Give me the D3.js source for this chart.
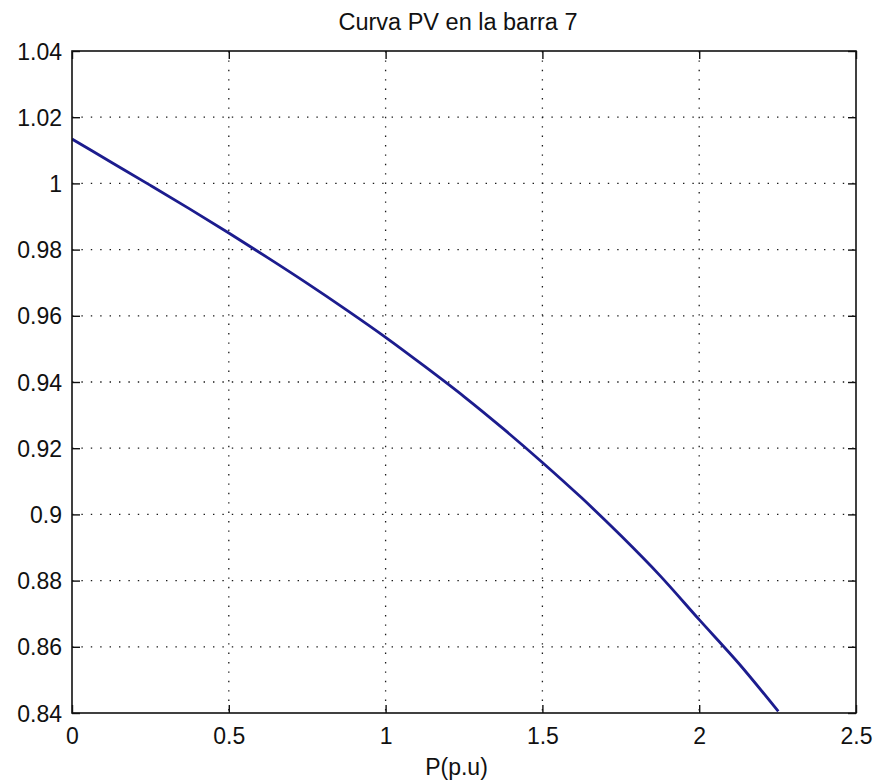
<!DOCTYPE html>
<html>
<head>
<meta charset="utf-8">
<script src="https://cdn.jsdelivr.net/npm/d3@7"></script>
<style>
  html, body { margin: 0; padding: 0; background: #ffffff; }
  svg { display: block; }
  text { font-family: "Liberation Sans", Arial, Helvetica, sans-serif; fill: #111; }
</style>
</head>
<body>
<svg id="chart" width="877" height="784"></svg>
<script>
// ---- data ----
const titleText = "Curva PV en la barra 7";
const xLabelText = "P(p.u)";
const powerP = [0, 0.125, 0.25, 0.375, 0.5, 0.625, 0.75, 0.875, 1.0, 1.125, 1.25, 1.375, 1.5, 1.625, 1.75, 1.875, 2.0, 2.125, 2.252];
const voltageV = [1.0134, 1.0064, 0.9994, 0.9923, 0.9850, 0.9775, 0.9698, 0.9618, 0.9535, 0.9447, 0.9356, 0.9259, 0.9157, 0.9050, 0.8936, 0.8815, 0.8682, 0.8551, 0.8405];
const xTicks = [0, 0.5, 1, 1.5, 2, 2.5];
const yTicks = [0.84, 0.86, 0.88, 0.9, 0.92, 0.94, 0.96, 0.98, 1, 1.02, 1.04];
const xDomain = [0, 2.5];
const yDomain = [0.84, 1.04];

// ---- layout ----
const W = 877, H = 784;
const margin = { left: 72, top: 51, right: 21, bottom: 71 };
const iw = W - margin.left - margin.right;
const ih = H - margin.top - margin.bottom;

const svg = d3.select("#chart");
const g = svg.append("g").attr("transform", `translate(${margin.left},${margin.top})`);

const x = d3.scaleLinear().domain(xDomain).range([0, iw]);
const y = d3.scaleLinear().domain(yDomain).range([ih, 0]);

// grid lines (dotted)
const gridColor = "#1a1a1a";
g.append("g").selectAll("line")
  .data(xTicks.filter(t => t > xDomain[0] && t < xDomain[1]))
  .join("line")
  .attr("x1", d => x(d)).attr("x2", d => x(d))
  .attr("y1", 0).attr("y2", ih)
  .attr("stroke", gridColor).attr("stroke-width", 1.3)
  .attr("stroke-dasharray", "1.4,8");
g.append("g").selectAll("line")
  .data(yTicks.filter(t => t > yDomain[0] && t < yDomain[1]))
  .join("line")
  .attr("x1", 0).attr("x2", iw)
  .attr("y1", d => y(d)).attr("y2", d => y(d))
  .attr("stroke", gridColor).attr("stroke-width", 1.3)
  .attr("stroke-dasharray", "1.4,8");

// data line
const line = d3.line().x((d, i) => x(powerP[i])).y(d => y(d)).curve(d3.curveMonotoneX);
g.append("defs").append("clipPath").attr("id", "clip")
  .append("rect").attr("x", 0).attr("y", 0).attr("width", iw).attr("height", ih);
g.append("path")
  .datum(voltageV)
  .attr("d", line)
  .attr("fill", "none")
  .attr("stroke", "#1c1c8e")
  .attr("stroke-width", 2.8)
  .attr("stroke-linejoin", "round")
  .attr("clip-path", "url(#clip)");

// axes with inward ticks
const tickLen = 8;
const axisBottom = d3.axisBottom(x).tickValues(xTicks).tickSizeInner(-tickLen).tickSizeOuter(0).tickPadding(0).tickFormat(d3.format("~g"));
const axisLeft = d3.axisLeft(y).tickValues(yTicks).tickSizeInner(-tickLen).tickSizeOuter(0).tickPadding(0).tickFormat(d3.format("~g"));
const axisTop = d3.axisTop(x).tickValues(xTicks).tickSizeInner(-tickLen).tickSizeOuter(0).tickFormat("");
const axisRight = d3.axisRight(y).tickValues(yTicks).tickSizeInner(-tickLen).tickSizeOuter(0).tickFormat("");

function styleAxis(sel) {
  sel.select(".domain").remove();
  sel.selectAll(".tick line").attr("stroke", "#111").attr("stroke-width", 1.4);
}

const gx = g.append("g").attr("transform", `translate(0,${ih})`).call(axisBottom).call(styleAxis);
gx.selectAll(".tick text")
  .attr("y", 31).attr("dy", null)
  .style("font-size", "23px")
  .style("font-family", "'Liberation Sans', Arial, sans-serif")
  .attr("fill", "#111");

const gy = g.append("g").call(axisLeft).call(styleAxis);
gy.selectAll(".tick text")
  .attr("x", -10).attr("dy", "0.35em")
  .style("font-size", "23px")
  .style("font-family", "'Liberation Sans', Arial, sans-serif")
  .attr("fill", "#111");

g.append("g").call(axisTop).call(styleAxis);
g.append("g").attr("transform", `translate(${iw},0)`).call(axisRight).call(styleAxis);

// box
g.append("rect")
  .attr("x", 0).attr("y", 0).attr("width", iw).attr("height", ih)
  .attr("fill", "none").attr("stroke", "#111").attr("stroke-width", 1.6);

// title
svg.append("text")
  .attr("x", 458).attr("y", 30)
  .attr("text-anchor", "middle")
  .style("font-size", "23.5px")
  .text(titleText);

// x label
svg.append("text")
  .attr("x", 456.5).attr("y", 775)
  .attr("text-anchor", "middle")
  .style("font-size", "23px")
  .text(xLabelText);
</script>
</body>
</html>
